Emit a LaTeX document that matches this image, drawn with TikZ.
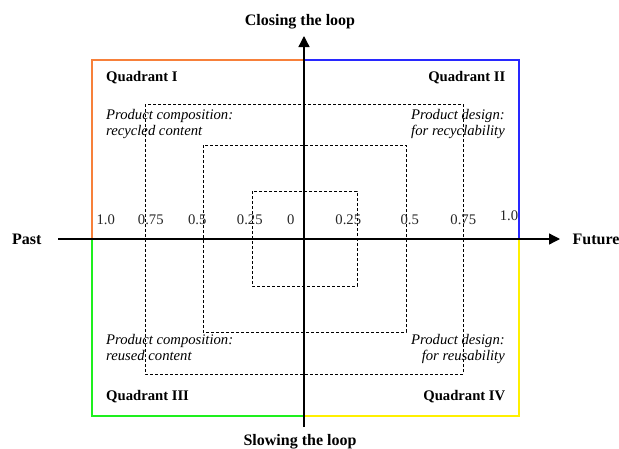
\documentclass[tikz,border=0pt]{standalone}
\usepackage{fontspec}
\setmainfont{Liberation Serif}
\usetikzlibrary{arrows.meta}
\definecolor{qorange}{RGB}{247,128,58}
\definecolor{qblue}{RGB}{40,40,255}
\definecolor{qgreen}{RGB}{30,240,30}
\definecolor{qyellow}{RGB}{255,240,0}
\begin{document}
\begin{tikzpicture}[x=1pt,y=-1pt,
  frame/.style={line width=2pt},
  ring/.style={line width=0.8pt, dash pattern=on 3pt off 2pt},
  axis/.style={line width=1.3pt, -{Triangle[length=11pt,width=11pt]}},
  heading/.style={font=\fontsize{16}{19}\selectfont\bfseries, inner sep=0pt},
  qlabel/.style={font=\fontsize{14.67}{17}\selectfont\bfseries, inner sep=0pt},
  note/.style={font=\fontsize{14.67}{16.7}\selectfont\itshape, inner sep=0pt},
  tick/.style={font=\fontsize{14.67}{17}\selectfont, inner sep=0pt, text=black!85},
]
\useasboundingbox (0,0) rectangle (619,448);

% quadrant frames
\draw[frame, qgreen]  (92,239)  rectangle (304,416);
\draw[frame, qyellow] (304,239) rectangle (519,416);
\draw[frame, qorange] (92,60)   rectangle (304,239);
\draw[frame, qblue]   (304,60)  rectangle (519,239);

% nested scale rings (0.75, 0.5, 0.25)
\draw[ring] (145,104) rectangle (463,374);
\draw[ring] (203,145) rectangle (406,332);
\draw[ring] (252,191) rectangle (357,286);

% axes
\coordinate (west)  at (58,239);
\coordinate (east)  at (560,239);
\coordinate (south) at (304,427);
\coordinate (north) at (304,36);
\draw[axis] (west) -- (east);
\draw[axis] (south) -- (north);

% axis titles
\node[heading, anchor=west] (past)   at (12,239)  {Past};
\node[heading, anchor=west] (future) at (572.5,239) {Future};
\node[heading, anchor=base] (closing) at (300,25)  {Closing the loop};
\node[heading, anchor=base] (slowing) at (300,445) {Slowing the loop};

% quadrant titles
\node[qlabel, anchor=base west] (q1) at (106,81)  {Quadrant I};
\node[qlabel, anchor=base east] (q2) at (505.5,81) {Quadrant II};
\node[qlabel, anchor=base west] (q3) at (106,400) {Quadrant III};
\node[qlabel, anchor=base east] (q4) at (505.5,400) {Quadrant IV};

% quadrant descriptions (base anchor sits on the second line)
\node[note, anchor=base west, align=left]  (n1) at (106,135.7) {Product composition:\\recycled content};
\node[note, anchor=base east, align=right] (n2) at (505,135.7) {Product design:\\for recyclability};
\node[note, anchor=base west, align=left]  (n3) at (106,360.7) {Product composition:\\reused content};
\node[note, anchor=base east, align=right] (n4) at (505,360.7) {Product design:\\for reusability};

% scale values
\node[tick, anchor=base] (l100) at (105.8,224) {1.0};
\node[tick, anchor=base] (l075) at (150.8,224) {0.75};
\node[tick, anchor=base] (l050) at (197.2,224) {0.5};
\node[tick, anchor=base] (l025) at (249.8,224) {0.25};
\node[tick, anchor=base] (zero) at (290.7,224) {0};
\node[tick, anchor=base] (r025) at (348.3,224) {0.25};
\node[tick, anchor=base] (r050) at (409.8,224) {0.5};
\node[tick, anchor=base] (r075) at (463.3,224) {0.75};
\node[tick, anchor=base] (r100) at (509,220) {1.0};
\end{tikzpicture}
\end{document}
